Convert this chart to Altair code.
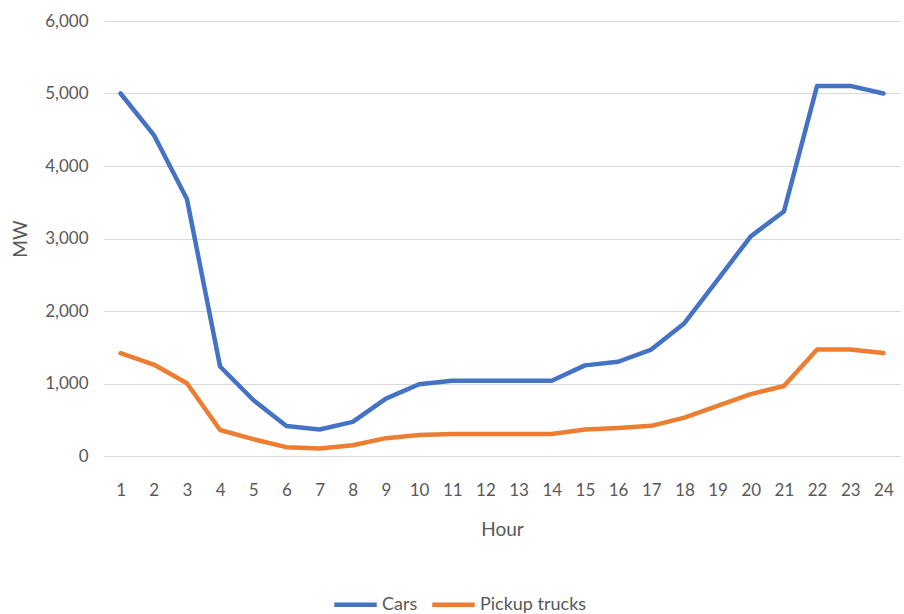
import altair as alt
import pandas as pd

hours = list(range(1, 25))
cars = [5000, 4430, 3545, 1235, 772, 414, 365, 470, 792, 990, 1037, 1037, 1037, 1037,
        1250, 1300, 1468, 1832, 2430, 3030, 3372, 5105, 5105, 5000]
pickups = [1418, 1262, 1004, 359, 232, 122, 102, 148, 246, 290, 303, 303, 303, 303,
           365, 386, 416, 530, 690, 853, 966, 1468, 1468, 1422]
series = ["Cars", "Pickup trucks"]
colors = ["#4472C4", "#ED7D31"]

df = pd.concat([
    pd.DataFrame({"Hour": hours, "MW": cars, "Series": series[0]}),
    pd.DataFrame({"Hour": hours, "MW": pickups, "Series": series[1]}),
])

FONT = "Lato"
GREY = "#595959"

chart = alt.Chart(df).mark_line(strokeWidth=4.5, strokeCap="round", strokeJoin="round").encode(
    x=alt.X("Hour:O", sort=hours,
            scale=alt.Scale(type="point", padding=0.5),
            axis=alt.Axis(title="Hour", labelAngle=0, ticks=False, domain=False,
                          labelPadding=26, titlePadding=22, grid=False)),
    y=alt.Y("MW:Q", scale=alt.Scale(domain=[0, 6000]),
            axis=alt.Axis(title="MW", values=[0, 1000, 2000, 3000, 4000, 5000, 6000],
                          format=",.0f", ticks=False, domain=False, labelPadding=16,
                          titlePadding=14, gridColor="#D9D9D9", gridWidth=1.2)),
    color=alt.Color("Series:N", sort=series,
                    scale=alt.Scale(domain=series, range=colors),
                    legend=alt.Legend(title=None, orient="none", direction="horizontal",
                                      legendX=228, legendY=560,
                                      symbolType="stroke", symbolSize=1800,
                                      symbolStrokeWidth=4.5, labelOffset=3,
                                      columnPadding=5, labelFontSize=18,
                                      labelColor=GREY, labelFont=FONT)),
).properties(
    width=796, height=435,
    autosize=alt.AutoSizeParams(type="none"),
    padding={"left": 104, "top": 21, "right": 4, "bottom": 158},
).configure_axis(
    labelFont=FONT, titleFont=FONT, labelFontSize=17, titleFontSize=19,
    labelColor=GREY, titleColor=GREY, titleFontWeight="normal",
).configure_view(stroke=None)

chart.save("out.html", embed_options={"renderer": "svg", "actions": False})
